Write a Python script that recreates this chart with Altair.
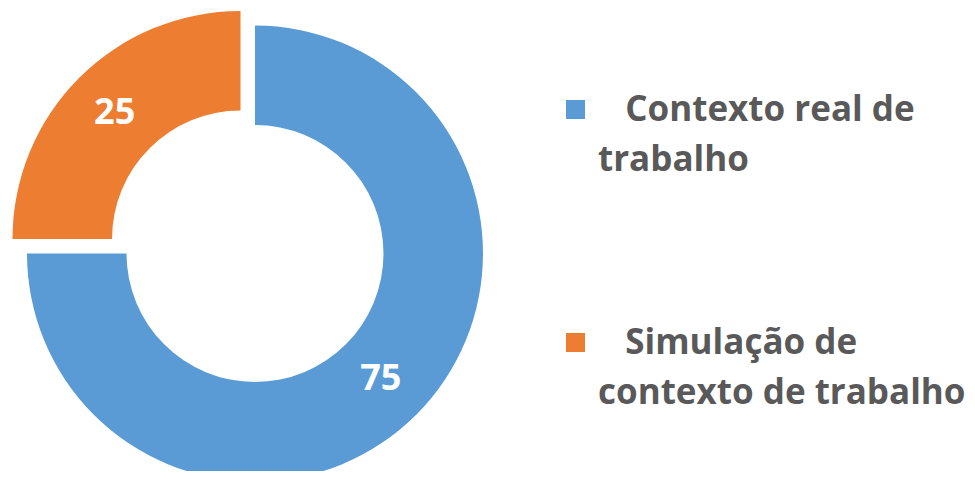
import json
import altair as alt
import pandas as pd

categories = ["Contexto real de trabalho", "Simulação de contexto de trabalho"]
values = [75, 25]
colors = ["#5B9BD5", "#ED7D31"]
legend_lines = [["\u200b\u00a0\u00a0\u00a0Contexto real de", "trabalho"],
                ["\u200b\u00a0\u00a0\u00a0Simulação de", "contexto de trabalho"]]

df = pd.DataFrame({"category": categories, "value": values, "order": list(range(len(categories)))})

label_expr = "datum.label == {} ? {} : {}".format(
    json.dumps(categories[0], ensure_ascii=False),
    json.dumps(legend_lines[0], ensure_ascii=False),
    json.dumps(legend_lines[1], ensure_ascii=False),
)

color = alt.Color(
    "category:N",
    scale=alt.Scale(domain=categories, range=colors),
    sort=categories,
    legend=alt.Legend(
        title=None,
        orient="none",
        legendX=550,
        legendY=84,
        symbolType="square",
        symbolSize=361,
        symbolStrokeWidth=0,
        labelFont="Open Sans",
        labelFontSize=35,
        labelFontWeight="bold",
        labelColor="#595959",
        labelOffset=5,
        labelLimit=1000,
        rowPadding=147,
        labelExpr=label_expr,
    ),
)

theta_scale = alt.Scale(domain=[0, 100], range=[0, 6.283185307179586])

base = alt.Chart(df).transform_stack(
    stack="value", groupby=[], as_=["v0", "v1"],
    sort=[alt.SortField("order", order="ascending")]
).transform_calculate(mid="(datum.v0 + datum.v1) / 2")


def part(cat, dx, dy):
    b = base.transform_filter(alt.datum.category == cat)
    arc = b.mark_arc(radius=228, radius2=128.5, xOffset=dx, yOffset=dy).encode(
        theta=alt.Theta("v0:Q", scale=theta_scale),
        theta2="v1:Q",
        color=color,
    )
    txt = b.mark_text(
        radius=178, xOffset=dx, yOffset=dy, font="Open Sans", fontSize=36,
        fontWeight="bold", color="white"
    ).encode(
        theta=alt.Theta("mid:Q", scale=theta_scale),
        text="value:Q",
    )
    return arc, txt


a1, t1 = part(categories[0], 0, 14)
a2, t2 = part(categories[1], -14.5, -0.5)

chart = alt.layer(a1, a2, t1, t2).properties(
    width=494,
    height=463,
    autosize=alt.AutoSizeParams(type="none"),
    padding={"left": 0, "top": 0, "right": 465, "bottom": 0},
    background="white",
).configure(
    view=alt.ViewConfig(strokeWidth=0),
    style={"guide-label": {"lineHeight": 50}},
)

chart.save("out.html", embed_options={"renderer": "svg", "actions": False})
